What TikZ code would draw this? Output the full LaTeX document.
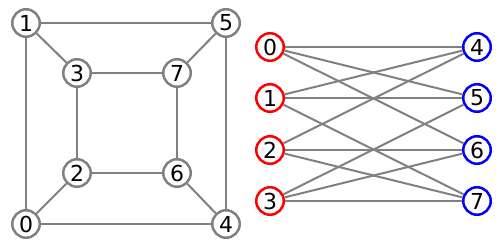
\documentclass[tikz,border=0pt]{standalone}
\usepackage{fontspec}
\setmainfont{DejaVu Sans}
\definecolor{edgegray}{RGB}{128,128,128}
\definecolor{nodegray}{RGB}{128,128,128}
\tikzset{
  vert/.style={circle,draw,line width=2.5pt,fill=white,minimum size=27.5pt,inner sep=0pt,font=\fontsize{22}{22}\selectfont},
  gv/.style={vert,draw=nodegray},
  rv/.style={vert,draw=red},
  bv/.style={vert,draw=blue},
  edge/.style={draw=edgegray,line width=2pt}
}
\begin{document}
\begin{tikzpicture}[x=1pt,y=-1pt]
\useasboundingbox (0,0) rectangle (500,248);
% left cube graph
\node[gv] (L1) at (26,23) {1};
\node[gv] (L5) at (226,23) {5};
\node[gv] (L3) at (77,73) {3};
\node[gv] (L7) at (177,73) {7};
\node[gv] (L2) at (77,173) {2};
\node[gv] (L6) at (177,173) {6};
\node[gv] (L0) at (26,224) {0};
\node[gv] (L4) at (226,224) {4};
\foreach \a/\b in {1/5,1/3,1/0,5/7,5/4,3/7,3/2,7/6,2/6,2/0,6/4,0/4}
  \draw[edge] (L\a) -- (L\b);
% right bipartite graph
\node[rv] (R0) at (270,47) {0};
\node[rv] (R1) at (270,98) {1};
\node[rv] (R2) at (270,150) {2};
\node[rv] (R3) at (270,201) {3};
\node[bv] (R4) at (477,47) {4};
\node[bv] (R5) at (477,98) {5};
\node[bv] (R6) at (477,150) {6};
\node[bv] (R7) at (477,201) {7};
\foreach \a/\b in {0/4,0/5,0/6,1/4,1/5,1/7,2/4,2/6,2/7,3/5,3/6,3/7}
  \draw[edge] (R\a) -- (R\b);
\end{tikzpicture}
\end{document}
